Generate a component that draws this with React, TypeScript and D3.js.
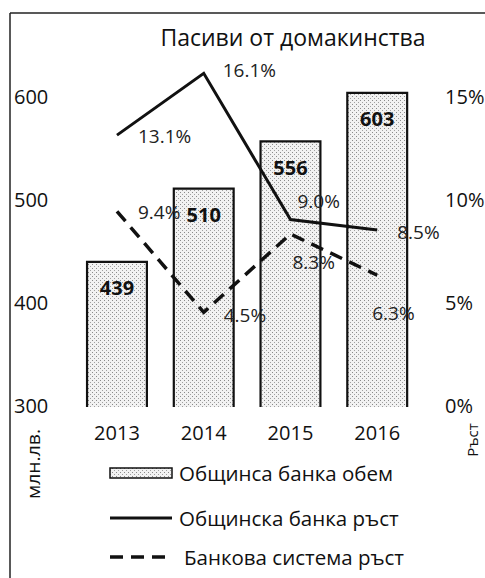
import React from 'react';
import * as d3 from 'd3';

const years = ['2013', '2014', '2015', '2016'];
const volume = [439, 510, 556, 603];
const bankGrowth = [13.1, 16.1, 9.0, 8.5];
const systemGrowth = [9.4, 4.5, 8.3, 6.3];
const leftTicks = [300, 400, 500, 600];
const rightTicks = [0, 5, 10, 15];
const legendLabels = ['Общинса банка обем', 'Общинска банка ръст', 'Банкова система ръст'];

const W = 485;
const H = 578;
const FONT = '"Open Sans", sans-serif';

// label offsets for the growth labels (dx, dy from point)
const bankLabelOff = [[21, 1], [19, -3], [7, -19], [20, 2]];
const systemLabelOff = [[21, 1], [20, 3], [2, 28], [-5, 38]];

export default function App() {
  const x = d3
    .scaleBand<string>()
    .domain(years)
    .range([73.6, 420.6])
    .paddingInner(0.31)
    .paddingOuter(0.155);
  const yL = d3.scaleLinear().domain([300, 600]).range([405, 96]);
  const yR = d3.scaleLinear().domain([0, 15]).range([405, 96]);
  const cx = (d: string) => (x(d) as number) + x.bandwidth() / 2;

  const lineGen = d3
    .line<number>()
    .x((_, i) => cx(years[i]))
    .y((d) => yR(d));

  return (
    <svg
      width={W}
      height={H}
      style={{ position: 'absolute', left: 0, top: 0, background: '#fff' }}
      fontFamily={FONT}
    >
      <defs>
        <pattern id="dots" width="4" height="4" patternUnits="userSpaceOnUse">
          <rect width="4" height="4" fill="#f2f2f2" />
          <rect x="0" y="0" width="1" height="1" fill="#8a8a8a" />
          <rect x="2" y="2" width="1" height="1" fill="#a0a0a0" />
        </pattern>
      </defs>

      {/* frame */}
      <line x1={10} y1={13} x2={W} y2={13} stroke="#222" strokeWidth={1.5} />
      <line x1={10} y1={13} x2={10} y2={H} stroke="#222" strokeWidth={1.5} />

      <text x={293} y={37} textAnchor="middle" dominantBaseline="central" fontSize={23} fill="#111">
        Пасиви от домакинства
      </text>

      {leftTicks.map((t) => (
        <text key={t} x={14} y={yL(t)} dominantBaseline="central" fontSize={20} fill="#111">
          {t}
        </text>
      ))}
      {rightTicks.map((t) => (
        <text key={t} x={445} y={yR(t)} dominantBaseline="central" fontSize={20} fill="#111">
          {t}%
        </text>
      ))}

      <text
        transform="translate(33,464) rotate(-90)"
        textAnchor="middle"
        dominantBaseline="central"
        fontSize={18}
        textLength={70}
        lengthAdjust="spacingAndGlyphs"
        fill="#111"
      >
        млн.лв.
      </text>
      <text
        transform="translate(472,440) rotate(-90)"
        textAnchor="middle"
        dominantBaseline="central"
        fontSize={15}
        fill="#111"
      >
        Ръст
      </text>

      {/* bars */}
      {years.map((yr, i) => (
        <g key={yr}>
          <path
            d={`M${x(yr)},${yL(300) + 2}V${yL(volume[i])}H${(x(yr) as number) + x.bandwidth()}V${yL(300) + 2}`}
            fill="url(#dots)"
            stroke="#111"
            strokeWidth={2.2}
          />
          <text
            x={cx(yr)}
            y={yL(volume[i]) + 26}
            textAnchor="middle"
            dominantBaseline="central"
            fontSize={20}
            fontWeight="bold"
            fill="#111"
          >
            {volume[i]}
          </text>
          <text x={cx(yr)} y={432} textAnchor="middle" dominantBaseline="central" fontSize={20} fill="#111">
            {yr}
          </text>
        </g>
      ))}

      <path d={lineGen(bankGrowth) ?? ''} fill="none" stroke="#111" strokeWidth={3} />
      <path
        d={lineGen(systemGrowth) ?? ''}
        fill="none"
        stroke="#111"
        strokeWidth={3.5}
        strokeDasharray="13 8"
      />

      {bankGrowth.map((v, i) => (
        <text
          key={'b' + i}
          x={cx(years[i]) + bankLabelOff[i][0]}
          y={yR(v) + bankLabelOff[i][1]}
          dominantBaseline="central"
          fontSize={19}
          fill="#222"
        >
          {v.toFixed(1)}%
        </text>
      ))}
      {systemGrowth.map((v, i) => (
        <text
          key={'s' + i}
          x={cx(years[i]) + systemLabelOff[i][0]}
          y={yR(v) + systemLabelOff[i][1]}
          dominantBaseline="central"
          fontSize={19}
          fill="#222"
        >
          {v.toFixed(1)}%
        </text>
      ))}

      {/* legend */}
      <rect x={110} y={468} width={62} height={10} fill="url(#dots)" stroke="#111" strokeWidth={1.5} />
      <line x1={110} y1={518} x2={172} y2={518} stroke="#111" strokeWidth={3} />
      <line x1={110} y1={557} x2={172} y2={557} stroke="#111" strokeWidth={3.5} strokeDasharray="13 8" />
      {legendLabels.map((l, i) => (
        <text
          key={l}
          x={i === 2 ? 184 : 179}
          y={[473, 518, 557][i]}
          dominantBaseline="central"
          fontSize={20.5}
          fill="#111"
        >
          {l}
        </text>
      ))}
    </svg>
  );
}
